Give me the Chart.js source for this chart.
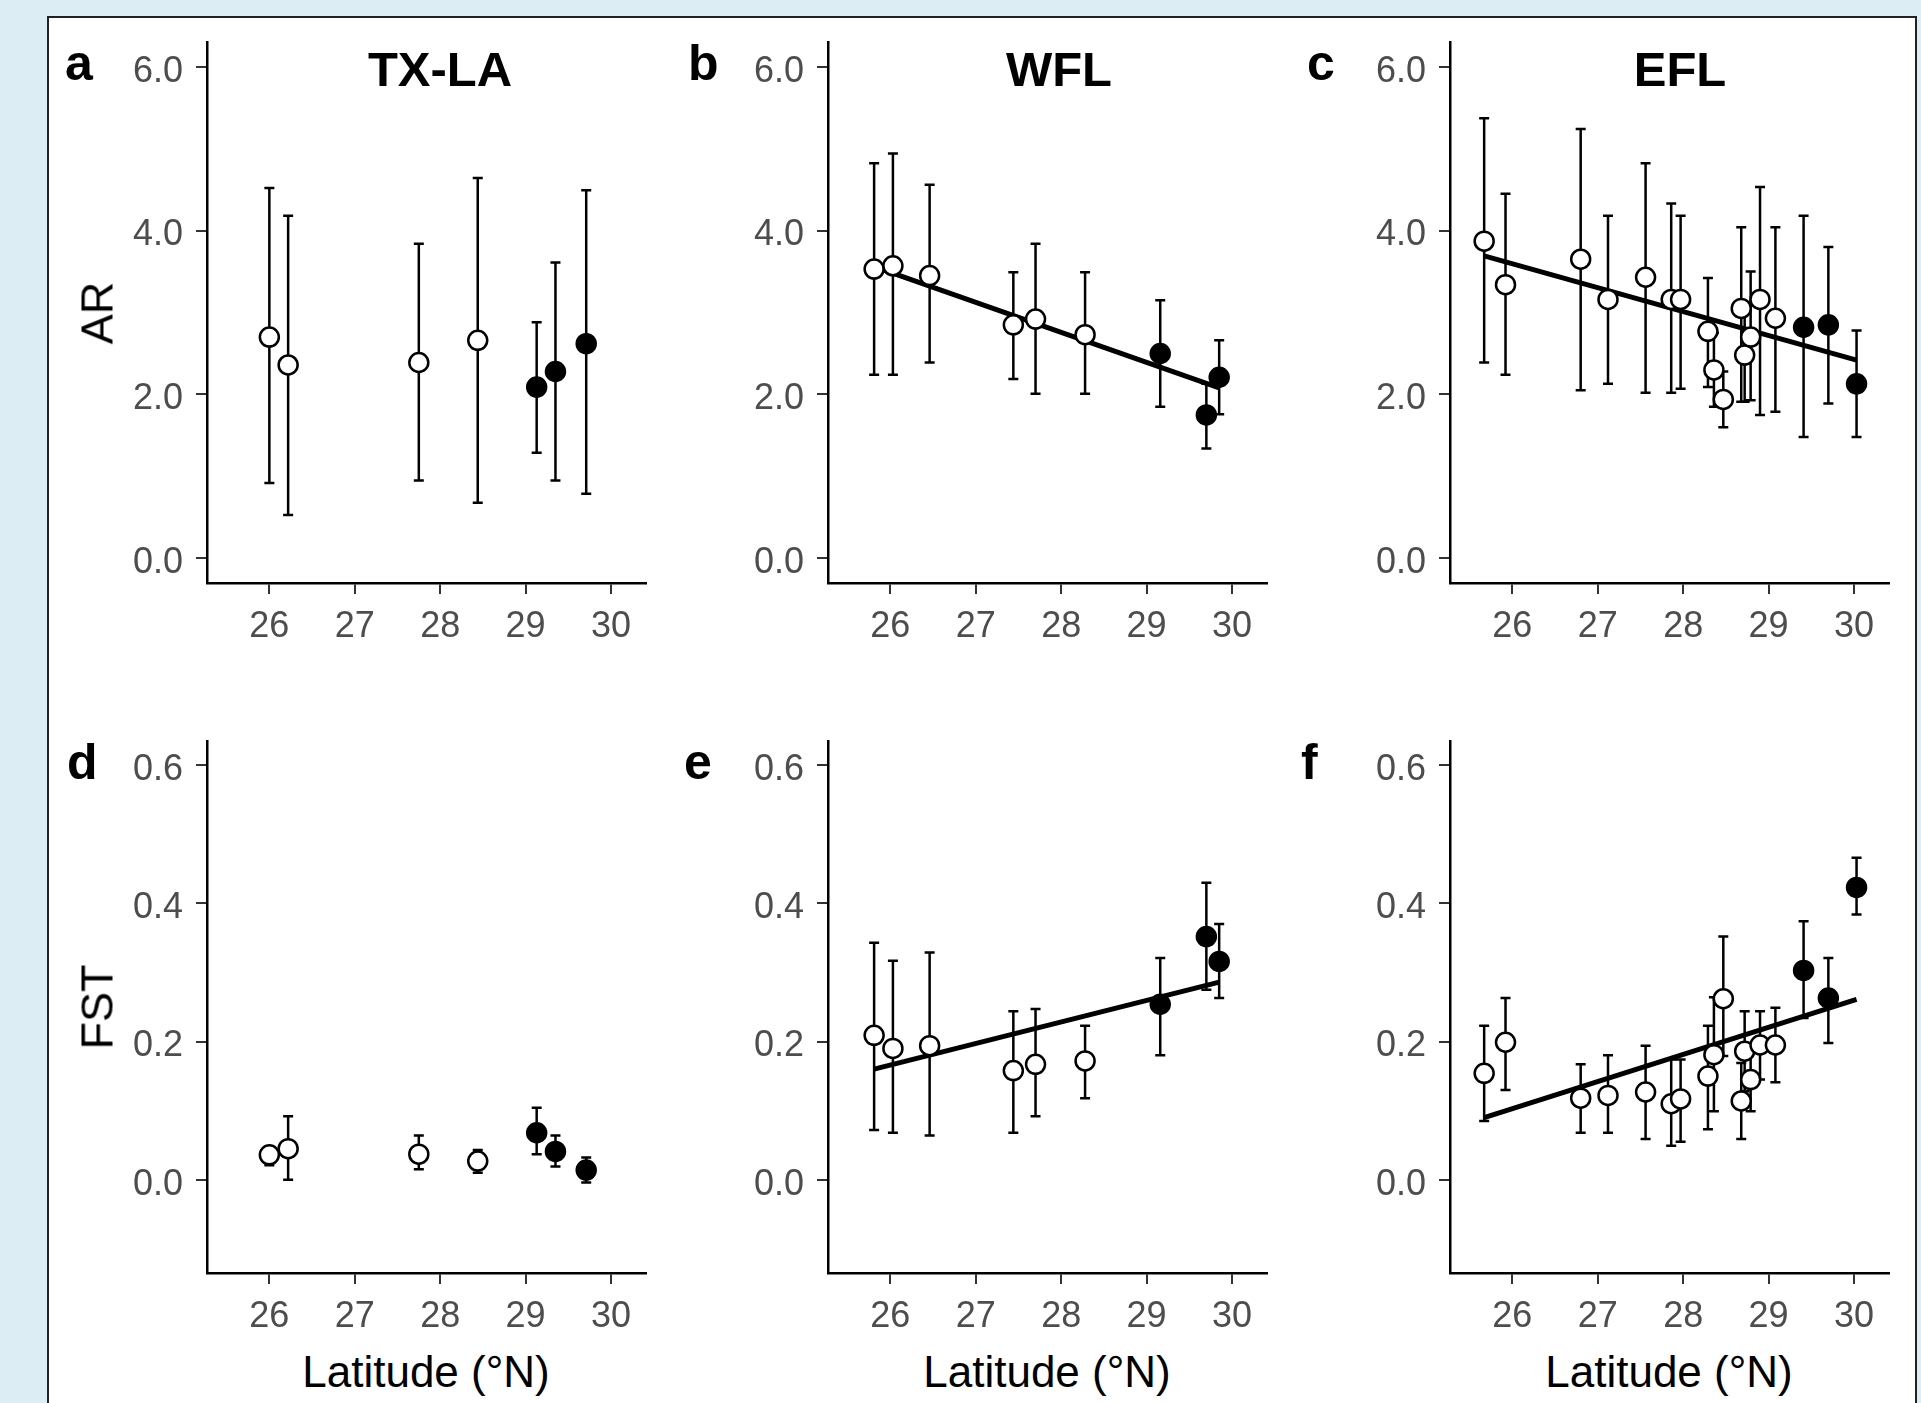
<!DOCTYPE html>
<html lang="en">
<head>
  <meta charset="UTF-8" />
  <title>AR and FST by latitude</title>
  <script src="https://cdn.jsdelivr.net/npm/chart.js"></script>
  <style>
    body {
      margin: 0;
      width: 1921px;
      height: 1403px;
      overflow: hidden;
      position: relative;
      background: #dcedf3;
      font-family: "Liberation Sans", Arial, sans-serif;
    }
    .sheet {
      position: absolute;
      left: 47px;
      top: 16px;
      width: 1866px;
      height: 1420px;
      background: #fff;
      border: 2px solid #222;
    }
    canvas { position: absolute; }
    .lbl { position: absolute; white-space: nowrap; line-height: 1; color: #000; }
    .letter { font-weight: bold; font-size: 50px; }
    .title { font-weight: bold; font-size: 49px; transform: translateX(-50%); }
    .ytitle { font-size: 45px; transform: translate(-50%, -50%) rotate(-90deg); }
    .xtitle { font-size: 44px; transform: translate(-50%, -50%); }
  </style>
</head>
<body>
  <div class="sheet"></div>

  <canvas id="pa"></canvas>
  <canvas id="pb"></canvas>
  <canvas id="pc"></canvas>
  <canvas id="pd"></canvas>
  <canvas id="pe"></canvas>
  <canvas id="pf"></canvas>

  <div class="lbl letter" style="left:65px; top:38px;">a</div>
  <div class="lbl letter" style="left:688px; top:38px;">b</div>
  <div class="lbl letter" style="left:1307px; top:38px;">c</div>
  <div class="lbl letter" style="left:67px; top:737px;">d</div>
  <div class="lbl letter" style="left:684px; top:737px;">e</div>
  <div class="lbl letter" style="left:1301px; top:737px;">f</div>

  <div class="lbl title" style="left:440px; top:45px;">TX-LA</div>
  <div class="lbl title" style="left:1059px; top:45px;">WFL</div>
  <div class="lbl title" style="left:1680px; top:45px;">EFL</div>

  <div class="lbl ytitle" style="left:97px; top:313px;">AR</div>
  <div class="lbl ytitle" style="left:97px; top:1007px;">FST</div>

  <div class="lbl xtitle" style="left:426px; top:1372px;">Latitude (°N)</div>
  <div class="lbl xtitle" style="left:1047px; top:1372px;">Latitude (°N)</div>
  <div class="lbl xtitle" style="left:1669px; top:1372px;">Latitude (°N)</div>

  <script>
    // axes
    const latRange = [25.27, 30.41];
    const latTicks = [26, 27, 28, 29, 30];
    const arRange = [-0.3, 6.3];
    const arTicks = [0, 2, 4, 6];
    const fstRange = [-0.135, 0.635];
    const fstTicks = [0, 0.2, 0.4, 0.6];

    // TX-LA
    const txlaLat = [26.00, 26.22, 27.75, 28.44, 29.13, 29.35, 29.71];
    const txlaFilled = [0, 0, 0, 0, 1, 1, 1];
    const txlaAR = [2.70, 2.36, 2.39, 2.66, 2.09, 2.28, 2.62];
    const txlaARLow = [0.92, 0.53, 0.95, 0.68, 1.29, 0.95, 0.79];
    const txlaARHigh = [4.52, 4.18, 3.84, 4.64, 2.88, 3.61, 4.49];
    const txlaFST = [0.036, 0.045, 0.037, 0.027, 0.068, 0.041, 0.014];
    const txlaFSTLow = [0.021, 0.000, 0.015, 0.010, 0.037, 0.019, -0.004];
    const txlaFSTHigh = [0.045, 0.092, 0.064, 0.043, 0.104, 0.064, 0.032];

    // WFL
    const wflLat = [25.81, 26.03, 26.46, 27.44, 27.70, 28.28, 29.16, 29.70, 29.85];
    const wflFilled = [0, 0, 0, 0, 0, 0, 1, 1, 1];
    const wflAR = [3.53, 3.57, 3.45, 2.85, 2.92, 2.73, 2.50, 1.75, 2.21];
    const wflARLow = [2.24, 2.24, 2.39, 2.19, 2.01, 2.01, 1.85, 1.34, 1.76];
    const wflARHigh = [4.82, 4.94, 4.56, 3.49, 3.84, 3.49, 3.15, 2.13, 2.66];
    const wflFST = [0.209, 0.190, 0.194, 0.158, 0.167, 0.172, 0.254, 0.352, 0.316];
    const wflFSTLow = [0.072, 0.068, 0.064, 0.068, 0.092, 0.118, 0.180, 0.275, 0.263];
    const wflFSTHigh = [0.343, 0.317, 0.329, 0.244, 0.247, 0.223, 0.321, 0.430, 0.370];
    const wflARTrend = [3.56, 2.08];
    const wflFSTTrend = [0.160, 0.286];

    // EFL
    const eflLat = [25.67, 25.92, 26.80, 27.12, 27.56, 27.86, 27.97, 28.29, 28.36,
                    28.47, 28.68, 28.72, 28.79, 28.90, 29.08, 29.41, 29.70, 30.03];
    const eflFilled = [0, 0, 0, 0, 0, 0, 0, 0, 0, 0, 0, 0, 0, 0, 0, 1, 1, 1];
    const eflAR = [3.87, 3.34, 3.65, 3.16, 3.43, 3.16, 3.16, 2.77, 2.30,
                   1.94, 3.05, 2.48, 2.70, 3.16, 2.93, 2.82, 2.85, 2.13];
    const eflARLow = [2.39, 2.24, 2.05, 2.13, 2.02, 2.02, 2.07, 2.09, 1.85,
                      1.60, 1.91, 1.91, 1.93, 1.75, 1.79, 1.48, 1.89, 1.48];
    const eflARHigh = [5.37, 4.45, 5.24, 4.18, 4.82, 4.33, 4.18, 3.42, 2.75,
                       2.28, 4.04, 3.05, 3.50, 4.53, 4.04, 4.18, 3.80, 2.78];
    const eflFST = [0.154, 0.199, 0.118, 0.122, 0.127, 0.110, 0.117, 0.150, 0.181,
                    0.262, 0.114, 0.186, 0.145, 0.195, 0.195, 0.303, 0.263, 0.423];
    const eflFSTLow = [0.085, 0.130, 0.068, 0.068, 0.059, 0.049, 0.055, 0.073, 0.099,
                       0.179, 0.059, 0.128, 0.099, 0.145, 0.141, 0.234, 0.198, 0.384];
    const eflFSTHigh = [0.223, 0.263, 0.167, 0.180, 0.194, 0.174, 0.174, 0.223, 0.264,
                        0.352, 0.169, 0.244, 0.191, 0.244, 0.249, 0.374, 0.321, 0.466];
    const eflARTrend = [3.69, 2.42];
    const eflFSTTrend = [0.090, 0.261];

    const FONT = '"Liberation Sans", Arial, sans-serif';
    const PANEL_W = 439;

    // draws the vertical intervals under the points
    const errorBars = {
      id: 'errorBars',
      beforeDatasetsDraw(chart, args, opts) {
        const ctx = chart.ctx;
        const xs = chart.scales.x, ys = chart.scales.y;
        ctx.save();
        ctx.strokeStyle = '#000';
        ctx.lineWidth = 2.5;
        opts.lat.forEach((lat, i) => {
          const px = xs.getPixelForValue(lat);
          const top = ys.getPixelForValue(opts.hi[i]);
          const bot = ys.getPixelForValue(opts.lo[i]);
          ctx.beginPath();
          ctx.moveTo(px, top); ctx.lineTo(px, bot);
          ctx.moveTo(px - 5, top); ctx.lineTo(px + 5, top);
          ctx.moveTo(px - 5, bot); ctx.lineTo(px + 5, bot);
          ctx.stroke();
        });
        ctx.restore();
      }
    };

    function axisOpts(range, ticks, fmt, isY) {
      return {
        type: 'linear',
        min: range[0],
        max: range[1],
        afterBuildTicks: s => { s.ticks = ticks.map(v => ({ value: v })); },
        afterFit: s => {
          if (isY) s.width = 100; else s.height = 70;
          s.paddingTop = s.paddingBottom = s.paddingLeft = s.paddingRight = 0;
        },
        ticks: {
          callback: fmt,
          color: '#4d4d4d',
          font: { family: FONT, size: 36 },
          padding: isY ? 13 : 11,
          labelOffset: isY ? 5 : 0,
          autoSkip: false,
          maxRotation: 0
        },
        grid: { drawOnChartArea: false, drawTicks: true, tickLength: 11, color: '#333', lineWidth: 2 },
        border: { display: true, color: '#000', width: 2.5 }
      };
    }

    function makePanel(id, left, top, height, lat, vals, lo, hi, filled, trend, yRange, yTicks) {
      const cv = document.getElementById(id);
      cv.width = PANEL_W + 120;
      cv.height = height + 100;
      cv.style.left = (left - 100) + 'px';
      cv.style.top = (top - 30) + 'px';

      const open = [], full = [];
      lat.forEach((x, i) => (filled[i] ? full : open).push({ x: x, y: vals[i] }));

      const datasets = [
        { data: open, pointRadius: 9.5, pointBackgroundColor: '#fff', pointBorderColor: '#000', pointBorderWidth: 2.5, order: 1 },
        { data: full, pointRadius: 9.5, pointBackgroundColor: '#000', pointBorderColor: '#000', pointBorderWidth: 2.5, order: 0 }
      ];
      if (trend) {
        datasets.push({
          data: [{ x: Math.min(...lat), y: trend[0] }, { x: Math.max(...lat), y: trend[1] }],
          showLine: true, borderColor: '#000', borderWidth: 5, pointRadius: 0, order: 2
        });
      }

      new Chart(cv, {
        type: 'scatter',
        data: { datasets: datasets },
        plugins: [errorBars],
        options: {
          responsive: false,
          animation: false,
          events: [],
          layout: { padding: { left: 0, top: 30, right: 20, bottom: 0 } },
          plugins: {
            legend: { display: false },
            tooltip: { enabled: false },
            errorBars: { lat: lat, lo: lo, hi: hi }
          },
          scales: {
            x: axisOpts(latRange, latTicks, v => String(v), false),
            y: axisOpts(yRange, yTicks, v => v.toFixed(1), true)
          }
        }
      });
    }

    makePanel('pa', 207, 42, 541, txlaLat, txlaAR, txlaARLow, txlaARHigh, txlaFilled, null, arRange, arTicks);
    makePanel('pb', 828, 42, 541, wflLat, wflAR, wflARLow, wflARHigh, wflFilled, wflARTrend, arRange, arTicks);
    makePanel('pc', 1450, 42, 541, eflLat, eflAR, eflARLow, eflARHigh, eflFilled, eflARTrend, arRange, arTicks);
    makePanel('pd', 207, 741, 532, txlaLat, txlaFST, txlaFSTLow, txlaFSTHigh, txlaFilled, null, fstRange, fstTicks);
    makePanel('pe', 828, 741, 532, wflLat, wflFST, wflFSTLow, wflFSTHigh, wflFilled, wflFSTTrend, fstRange, fstTicks);
    makePanel('pf', 1450, 741, 532, eflLat, eflFST, eflFSTLow, eflFSTHigh, eflFilled, eflFSTTrend, fstRange, fstTicks);
  </script>
</body>
</html>
